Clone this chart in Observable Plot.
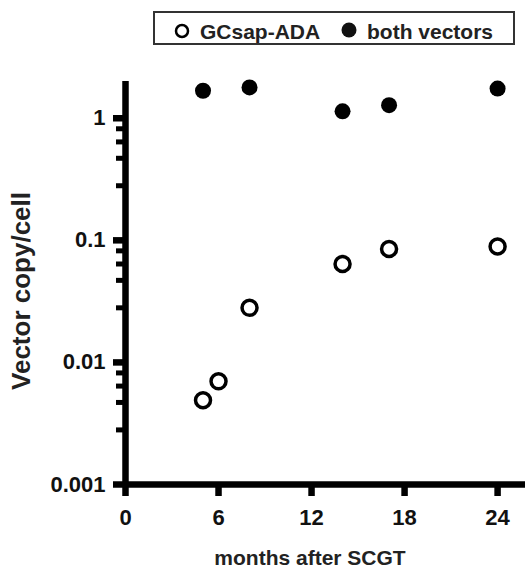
<!DOCTYPE html>
<html>
<head>
<meta charset="utf-8">
<script src="https://cdn.jsdelivr.net/npm/d3@7"></script>
<script src="https://cdn.jsdelivr.net/npm/@observablehq/plot@0.6"></script>
<style>
  html, body { margin: 0; padding: 0; background: #fff; }
  #wrap { position: relative; width: 525px; height: 572px; }
  #chart { position: absolute; left: 0; top: 0; }
  #overlay { position: absolute; left: 0; top: 0; pointer-events: none; }
  text { font-family: "Liberation Sans", Arial, sans-serif; font-weight: bold; }
</style>
</head>
<body>
<div id="wrap">
  <div id="chart"></div>
  <svg id="overlay" width="525" height="572"></svg>
</div>
<script>
// ---- data ----
const seriesNames = ["GCsap-ADA", "both vectors"];
const gcsapMonths = [5, 6, 8, 14, 17, 24];
const gcsapCopies = [0.0049, 0.0070, 0.028, 0.064, 0.085, 0.089];
const bothMonths = [5, 8, 14, 17, 24];
const bothCopies = [1.68, 1.79, 1.14, 1.28, 1.75];

// ---- axes / ticks ----
const xTicks = [0, 6, 12, 18, 24];
const yMajorTicks = [0.001, 0.01, 0.1, 1];
const yMinorTicks = [0.0082, 0.0064, 0.0047, 0.0028, 0.082, 0.064, 0.047, 0.028, 0.82, 0.64, 0.47, 0.28];
const xTitle = "months after SCGT";
const yTitle = "Vector copy/cell";

const gcsap = gcsapMonths.map((m, i) => ({month: m, copies: gcsapCopies[i]}));
const both = bothMonths.map((m, i) => ({month: m, copies: bothCopies[i]}));

const font = '"Liberation Sans", Arial, sans-serif';

const chart = Plot.plot({
  width: 525,
  height: 572,
  marginTop: 81,
  marginBottom: 88,
  marginLeft: 125,
  marginRight: 0,
  style: {fontFamily: font, color: "#000", background: "transparent"},
  x: {domain: [0, 25.8]},
  y: {type: "log", domain: [0.001, 2]},
  marks: [
    Plot.axisY({ticks: yMinorTicks, tickSize: 9, strokeWidth: 5, tickFormat: () => "", label: null}),
    Plot.axisY({ticks: yMajorTicks, tickSize: 12, tickPadding: 8, strokeWidth: 6.5,
      tickFormat: d => String(d), fontSize: 22, fontWeight: "bold", fill: "#111", label: null}),
    Plot.axisX({ticks: xTicks, tickSize: 12, tickPadding: 13, strokeWidth: 6.5,
      fontSize: 22, fontWeight: "bold", fill: "#111", label: null}),
    Plot.ruleX([0], {stroke: "#000", strokeWidth: 6.5}),
    Plot.ruleY([0.001], {stroke: "#000", strokeWidth: 6.5}),
    Plot.dot(both, {x: "month", y: "copies", r: 8, fill: "#000", stroke: "none"}),
    Plot.dot(gcsap, {x: "month", y: "copies", r: 7.5, fill: "#fff", stroke: "#000", strokeWidth: 3.5})
  ]
});
document.getElementById("chart").appendChild(chart);

// ---- legend & axis titles (overlay) ----
const ov = d3.select("#overlay");
ov.append("rect").attr("x", 154).attr("y", 12).attr("width", 360).attr("height", 32)
  .attr("fill", "#fff").attr("stroke", "#333").attr("stroke-width", 2);
ov.append("circle").attr("cx", 182).attr("cy", 31).attr("r", 6)
  .attr("fill", "#fff").attr("stroke", "#000").attr("stroke-width", 2.5);
ov.append("text").attr("x", 200).attr("y", 38.5).attr("font-size", 21).attr("fill", "#222").text(seriesNames[0]);
ov.append("circle").attr("cx", 349).attr("cy", 30).attr("r", 7.5).attr("fill", "#111");
ov.append("text").attr("x", 367).attr("y", 38.5).attr("font-size", 21).attr("fill", "#222").text(seriesNames[1]);

ov.append("text").attr("x", 310).attr("y", 565).attr("text-anchor", "middle")
  .attr("font-size", 21).attr("fill", "#222").text(xTitle);
ov.append("text").attr("transform", "translate(30,291) rotate(-90)").attr("text-anchor", "middle")
  .attr("font-size", 26).attr("fill", "#222").text(yTitle);
</script>
</body>
</html>
